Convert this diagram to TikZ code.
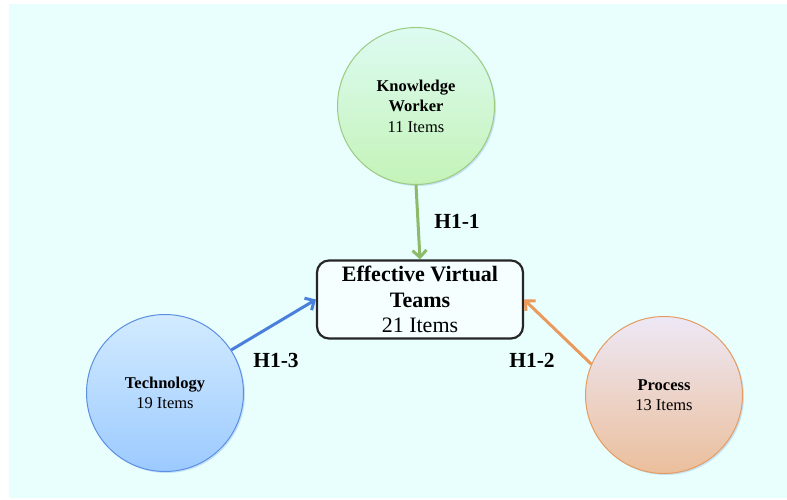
\documentclass[tikz,border=0pt]{standalone}
\usepackage{fontspec}
\setmainfont{Liberation Serif}
\usetikzlibrary{arrows.meta,shadows}

\definecolor{bgcyan}{HTML}{E8FFFE}
\definecolor{kwtop}{HTML}{DDFBF2}
\definecolor{kwbot}{HTML}{C4F3B8}
\definecolor{kwline}{HTML}{9CCB80}
\definecolor{tetop}{HTML}{D2EBFF}
\definecolor{tebot}{HTML}{9CCAFF}
\definecolor{teline}{HTML}{5C8FE2}
\definecolor{prtop}{HTML}{EDE8F6}
\definecolor{prbot}{HTML}{EBBF9C}
\definecolor{prline}{HTML}{E69C60}
\definecolor{greenarr}{HTML}{8DBB6A}
\definecolor{bluearr}{HTML}{4A80DC}
\definecolor{orangearr}{HTML}{EA9A5C}

\tikzset{
  factor/.style={circle, minimum size=157pt, inner sep=0pt, align=center,
    line width=1pt, font=\fontsize{16.5}{20.5}\selectfont,
    drop shadow={shadow xshift=1.5pt, shadow yshift=-1.5pt, fill=teline, opacity=.25}},
  hyplink/.style={line width=3pt, -{Straight Barb[length=7pt,width=14pt]}},
  hyplabel/.style={font=\bfseries\fontsize{21.5}{24}\selectfont}
}

\begin{document}
\begin{tikzpicture}[x=1pt,y=-1pt]
  \useasboundingbox (0,0) rectangle (787,499);
  \fill[bgcyan] (9,4) rectangle (787,498);

  \node[factor, draw=kwline, top color=kwtop, bottom color=kwbot] (kw) at (416,106)
    {\textbf{Knowledge}\\\textbf{Worker}\\11 Items};
  \node[factor, draw=teline, top color=tetop, bottom color=tebot] (tech) at (165,393)
    {\textbf{Technology}\\19 Items};
  \node[factor, draw=prline, top color=prtop, bottom color=prbot] (proc) at (664,395)
    {\textbf{Process}\\13 Items};

  \node[draw=black!85, line width=2.2pt, rounded corners=12pt, fill=white!60!bgcyan,
    minimum width=206pt, minimum height=78pt, align=center,
    font=\fontsize{22}{25.5}\selectfont] (evt) at (420,299.5)
    {\textbf{Effective Virtual}\\\textbf{Teams}\\21 Items};

  \draw[hyplink, greenarr](kw.south)--(evt.north);
  \draw[hyplink, bluearr](tech.33)--(evt.west);
  \draw[hyplink, orangearr](proc.157)--(evt.east);

  \node[hyplabel] (h11) at (457,221) {H1-1};
  \node[hyplabel] (h13) at (276,360) {H1-3};
  \node[hyplabel] (h12) at (532,360) {H1-2};
\end{tikzpicture}
\end{document}
